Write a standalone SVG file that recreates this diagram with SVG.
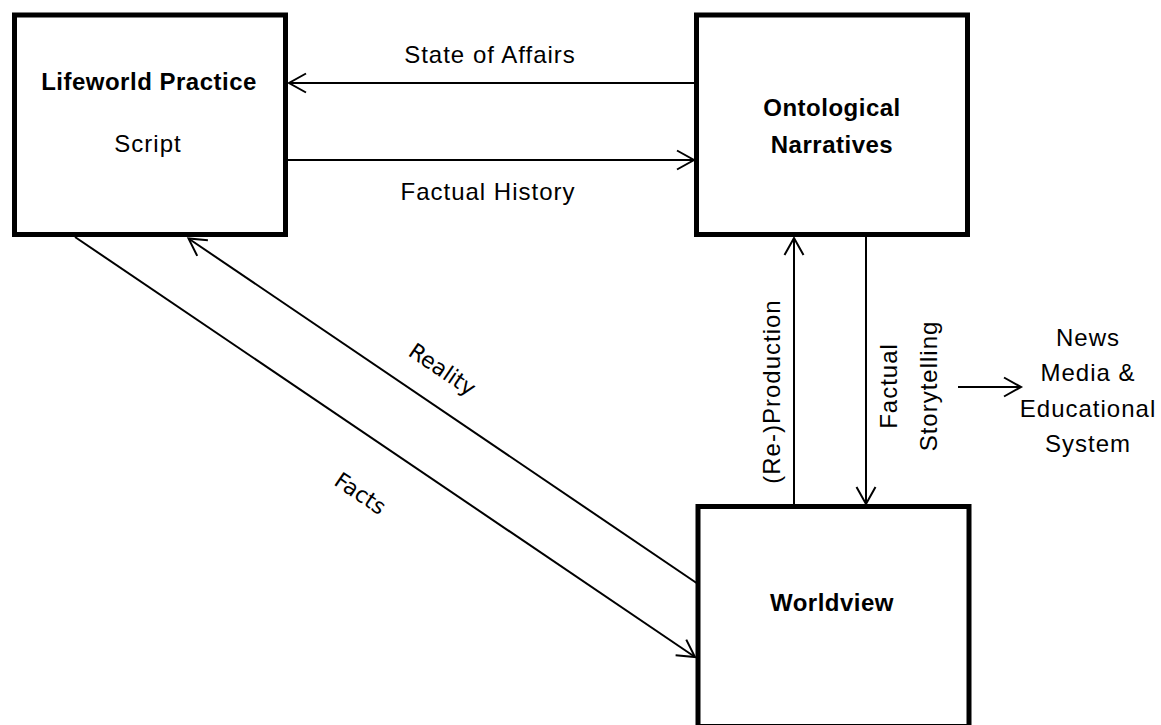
<svg xmlns="http://www.w3.org/2000/svg" width="1161" height="725" viewBox="0 0 1161 725">
  <style>
    .box { fill: #ffffff; stroke: #000000; stroke-width: 5; }
    .conn { fill: none; stroke: #000000; stroke-width: 2; marker-end: url(#arrow); }
    .title { font-family: "Liberation Sans", Arial, sans-serif; font-size: 24px; font-weight: bold; letter-spacing: 0.5px; text-anchor: middle; fill: #000000; }
    .label { font-family: "Liberation Sans", Arial, sans-serif; font-size: 24px; letter-spacing: 1px; text-anchor: middle; fill: #000000; }
    .slant { font-family: "DejaVu Sans", Verdana, sans-serif; font-size: 22px; text-anchor: middle; fill: #000000; }
  </style>
  <defs>
    <marker id="arrow" markerUnits="userSpaceOnUse" viewBox="-20 -12 22 24" refX="0" refY="0" markerWidth="22" markerHeight="24" orient="auto" overflow="visible">
      <path d="M -17,-9.5 L 0,0 L -17,9.5" fill="none" stroke="#000000" stroke-width="2"/>
    </marker>
  </defs>

  <rect width="1161" height="725" fill="#ffffff"/>

  <!-- connectors -->
  <g id="connectors">
    <line class="conn" x1="696" y1="83" x2="289" y2="83"/>
    <line class="conn" x1="288" y1="160" x2="694" y2="160"/>
    <line class="conn" x1="701" y1="586" x2="188.5" y2="238.5"/>
    <line class="conn" x1="75" y1="237" x2="695" y2="657"/>
    <line class="conn" x1="794" y1="506" x2="794" y2="238"/>
    <line class="conn" x1="866" y1="236" x2="866" y2="504"/>
    <line class="conn" x1="958" y1="387" x2="1021" y2="387"/>
  </g>

  <!-- connector labels -->
  <g id="connector-labels">
    <text class="label" x="490" y="63">State of Affairs</text>
    <text class="label" x="488" y="200">Factual History</text>
    <text class="slant" transform="translate(442,370) rotate(34.1)" x="0" y="7">Reality</text>
    <text class="slant" transform="translate(360,494) rotate(34.1)" x="0" y="7">Facts</text>
    <text class="label" transform="translate(780,391.5) rotate(-90)" x="0" y="0">(Re-)Production</text>
    <text class="label" transform="translate(897,386) rotate(-90)" x="0" y="0">Factual</text>
    <text class="label" transform="translate(937,386) rotate(-90)" x="0" y="0">Storytelling</text>
  </g>

  <g id="lifeworld">
    <rect class="box" x="14.5" y="15" width="271" height="219.5"/>
    <text class="title" x="149" y="90">Lifeworld Practice</text>
    <text class="label" x="148" y="152">Script</text>
  </g>

  <g id="ontological">
    <rect class="box" x="696.5" y="15" width="271" height="219.5"/>
    <text class="title" x="832" y="116">Ontological</text>
    <text class="title" x="832" y="153">Narratives</text>
  </g>

  <g id="worldview">
    <rect class="box" x="698" y="506.5" width="271" height="220"/>
    <text class="title" x="832" y="611">Worldview</text>
  </g>

  <g id="news-media">
    <text class="label" x="1088" y="346">News</text>
    <text class="label" x="1088" y="381">Media &amp;</text>
    <text class="label" x="1088" y="417">Educational</text>
    <text class="label" x="1088" y="452">System</text>
  </g>
</svg>
